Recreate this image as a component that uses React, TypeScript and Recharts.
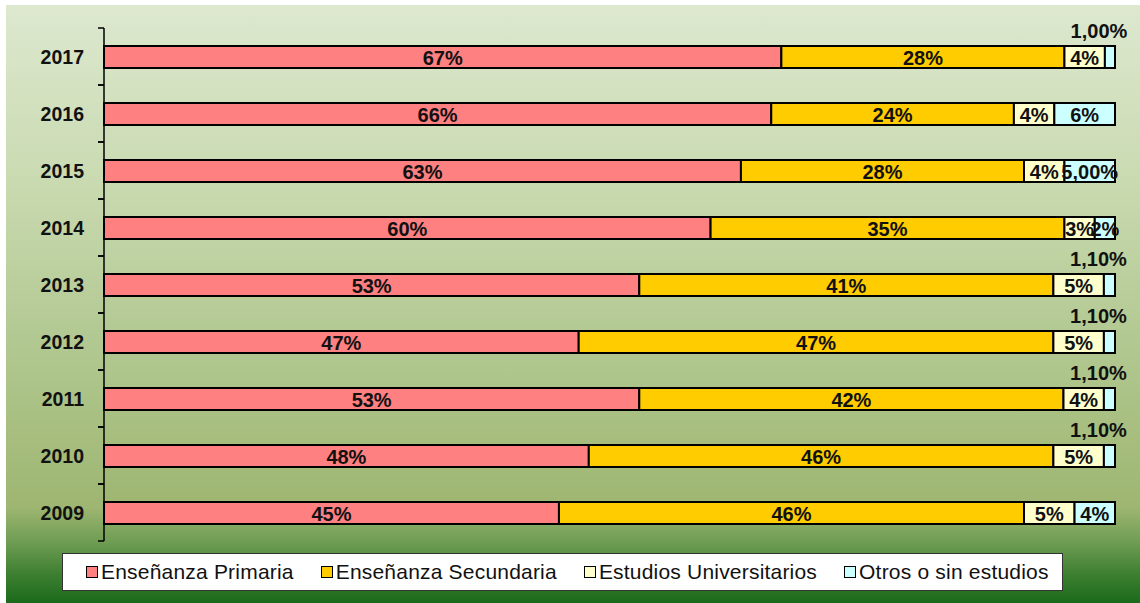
import React from 'react';
import { BarChart, Bar, XAxis, YAxis, LabelList } from 'recharts';

const years = ['2009', '2010', '2011', '2012', '2013', '2014', '2015', '2016', '2017'];
const primaria = [45, 48, 53, 47, 53, 60, 63, 66, 67];
const secundaria = [46, 46, 42, 47, 41, 35, 28, 24, 28];
const universitarios = [5, 5, 4, 5, 5, 3, 4, 4, 4];
const otros = [4, 1.1, 1.1, 1.1, 1.1, 2, 5, 6, 1];
const otrosLabels = ['4%', '1,10%', '1,10%', '1,10%', '1,10%', '2%', '5,00%', '6%', '1,00%'];

const series = [
  { key: 'primaria', name: 'Enseñanza Primaria', color: '#ff8080' },
  { key: 'secundaria', name: 'Enseñanza Secundaria', color: '#ffcc00' },
  { key: 'universitarios', name: 'Estudios Universitarios', color: '#ffffcc' },
  { key: 'otros', name: 'Otros o sin estudios', color: '#ccffff' },
];

const data = years.map((year, i) => ({
  year,
  primaria: primaria[i],
  secundaria: secundaria[i],
  universitarios: universitarios[i],
  otros: otros[i],
}));

const W = 1134;
const H = 598;
const margin = { top: 23, right: 25, bottom: 62, left: 0 };
const band = (H - margin.top - margin.bottom) / years.length;
const tickSize = 6;
const tickMargin = 14;
const font = '"Liberation Sans", Arial, sans-serif';

const YearTick = (props: any) => {
  const { x, y, payload } = props;
  const axisX = x + tickSize + tickMargin;
  return (
    <g>
      <line x1={axisX - 6} x2={axisX} y1={y - band / 2} y2={y - band / 2} stroke="#000" strokeWidth={1.5} />
      <line x1={axisX - 6} x2={axisX} y1={y + band / 2} y2={y + band / 2} stroke="#000" strokeWidth={1.5} />
      <text x={x} y={y} textAnchor="end" dominantBaseline="central" fontFamily={font} fontWeight="bold" fontSize={19.5} fill="#111">
        {payload.value}
      </text>
    </g>
  );
};

const pctLabel = (props: any) => {
  const { x, y, width, height, value } = props;
  return (
    <text x={x + width / 2} y={y + height / 2 + 1} textAnchor="middle" dominantBaseline="central" fontFamily={font} fontWeight="bold" fontSize={20} fill="#111">
      {`${value}%`}
    </text>
  );
};

const otrosLabel = (props: any) => {
  const { x, y, width, height, index, value } = props;
  const small = value < 1.5;
  return (
    <text
      x={x + width / 2 - (small ? 11 : 0)}
      y={small ? y - 15 : y + height / 2 + 1}
      textAnchor="middle"
      dominantBaseline="central"
      fontFamily={font}
      fontWeight="bold"
      fontSize={20}
      fill="#111"
    >
      {otrosLabels[index]}
    </text>
  );
};

export default function App() {
  return (
    <div style={{ position: 'absolute', left: 0, top: 0, width: 1140, height: 603, background: '#fff' }}>
      <div
        style={{
          position: 'absolute',
          left: 6,
          top: 5,
          width: W,
          height: H,
          background:
            'linear-gradient(to bottom, #dde8cf 0%, #c9dab0 30%, #b3c993 55%, #9eb671 84%, #6d9c52 90%, #3f8032 95%, #1b6a1b 100%)',
        }}
      >
        <BarChart width={W} height={H} data={data} layout="vertical" stackOffset="expand" margin={margin}>
          <XAxis type="number" hide domain={[0, 1]} />
          <YAxis
            type="category"
            dataKey="year"
            reversed
            width={98}
            axisLine={{ stroke: '#000', strokeWidth: 1.5 }}
            tickLine={false}
            tickSize={tickSize}
            tickMargin={tickMargin}
            tick={<YearTick />}
          />
          {series.map((s) => (
            <Bar
              key={s.key}
              dataKey={s.key}
              name={s.name}
              stackId="a"
              fill={s.color}
              stroke="#000"
              strokeWidth={2}
              barSize={22}
              isAnimationActive={false}
            >
              <LabelList dataKey={s.key} content={s.key === 'otros' ? otrosLabel : pctLabel} />
            </Bar>
          ))}
        </BarChart>
        <div
          style={{
            position: 'absolute',
            left: 56,
            top: 548,
            width: 1001,
            height: 38,
            boxSizing: 'border-box',
            background: '#fff',
            border: '1.5px solid #333',
            display: 'flex',
            alignItems: 'center',
            paddingLeft: 23,
            gap: 27,
            fontFamily: font,
            fontSize: 21,
            letterSpacing: 0.2,
            color: '#111',
          }}
        >
          {series.map((s) => (
            <div key={s.key} style={{ display: 'flex', alignItems: 'center', whiteSpace: 'nowrap' }}>
              <span
                style={{
                  display: 'inline-block',
                  width: 10,
                  height: 10,
                  background: s.color,
                  border: '1.5px solid #000',
                  marginRight: 3,
                }}
              />
              {s.name}
            </div>
          ))}
        </div>
      </div>
    </div>
  );
}
